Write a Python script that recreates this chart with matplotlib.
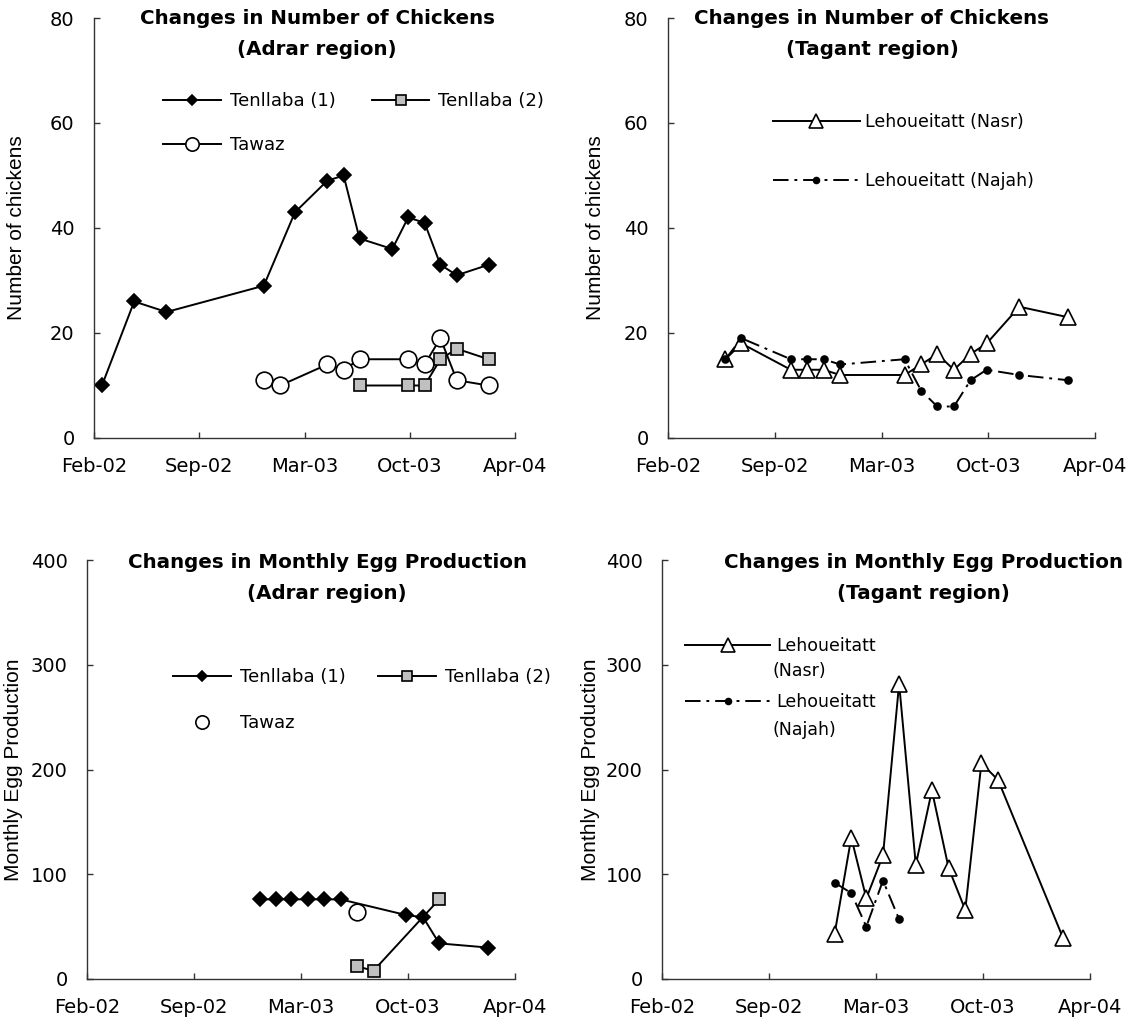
import datetime as dt

import matplotlib.pyplot as plt
import matplotlib.dates as mdates
from matplotlib.ticker import MultipleLocator

# ---- data (monthly observations) ----
chk_t1_months = ["2002-03", "2002-05", "2002-07", "2003-01", "2003-03", "2003-05", "2003-06",
                 "2003-07", "2003-09", "2003-10", "2003-11", "2003-12", "2004-01", "2004-03"]
chk_t1 = [10, 26, 24, 29, 43, 49, 50, 38, 36, 42, 41, 33, 31, 33]

chk_t2_months = ["2003-07", "2003-10", "2003-11", "2003-12", "2004-01", "2004-03"]
chk_t2 = [10, 10, 10, 15, 17, 15]

chk_tawaz_months = ["2003-01", "2003-02", "2003-05", "2003-06", "2003-07", "2003-10",
                    "2003-11", "2003-12", "2004-01", "2004-03"]
chk_tawaz = [11, 10, 14, 13, 15, 15, 14, 19, 11, 10]

chk_tagant_months = ["2002-06", "2002-07", "2002-10", "2002-11", "2002-12", "2003-01", "2003-05",
                     "2003-06", "2003-07", "2003-08", "2003-09", "2003-10", "2003-12", "2004-03"]
chk_nasr = [15, 18, 13, 13, 13, 12, 12, 14, 16, 13, 16, 18, 25, 23]
chk_najah = [15, 19, 15, 15, 15, 14, 15, 9, 6, 6, 11, 13, 12, 11]

egg_t1_months = ["2003-01", "2003-02", "2003-03", "2003-04", "2003-05", "2003-06",
                 "2003-10", "2003-11", "2003-12", "2004-03"]
egg_t1 = [76, 76, 76, 76, 76, 76, 61, 59, 34, 30]

egg_t2_months = ["2003-07", "2003-08", "2003-12"]
egg_t2 = [12, 8, 76]

egg_tawaz_months = ["2003-07"]
egg_tawaz = [64]

egg_nasr_months = ["2003-01", "2003-02", "2003-03", "2003-04", "2003-05", "2003-06",
                   "2003-07", "2003-08", "2003-09", "2003-10", "2003-11", "2004-03"]
egg_nasr = [43, 135, 77, 118, 282, 109, 180, 106, 66, 206, 190, 39]

egg_najah_months = ["2003-01", "2003-02", "2003-03", "2003-04", "2003-05"]
egg_najah = [92, 82, 50, 94, 57]


def to_dates(months):
    return [dt.datetime.strptime(m, "%Y-%m") for m in months]


W, H = 1134, 1025
fig = plt.figure(figsize=(W / 100, H / 100), dpi=100)

x_start = dt.datetime(2002, 2, 14)
x_step = dt.timedelta(days=199)
x_ticks = [x_start + k * x_step for k in range(5)]

TICK_FONT = "DejaVu Sans"
LEG_FONT = "DejaVu Sans"
LABEL_FONT = "Liberation Sans"


def make_axes(box, ymax, ystep, ylabel, ylabel_right):
    left, top, right, bottom = box
    ax = fig.add_axes([left / W, 1 - bottom / H, (right - left) / W, (bottom - top) / H])
    ax.set_xlim(x_ticks[0], x_ticks[-1])
    ax.set_xticks(x_ticks)
    ax.xaxis.set_major_formatter(mdates.DateFormatter("%b-%y"))
    ax.set_ylim(0, ymax)
    ax.yaxis.set_major_locator(MultipleLocator(ystep))
    for s in ["top", "right"]:
        ax.spines[s].set_visible(False)
    for s in ["left", "bottom"]:
        ax.spines[s].set_color("#333333")
        ax.spines[s].set_linewidth(1.0)
    ax.tick_params(direction="in", length=4, width=1, color="#333333",
                   labelsize=14, pad=14)
    for lab in ax.get_xticklabels() + ax.get_yticklabels():
        lab.set_family(TICK_FONT)
    ax.set_ylabel(ylabel, fontsize=15, family=LABEL_FONT)
    ax.yaxis.set_label_coords((ylabel_right - left) / (right - left), 0.5)
    return ax


line_kw = dict(color="black", lw=1.4, mec="black", mew=1.2)

# ---- Adrar chickens ----
ax1 = make_axes((94, 18, 515, 438), 80, 20, "Number of chickens", 26)
h1, = ax1.plot(to_dates(chk_t1_months), chk_t1, marker="D", ms=6.8, mfc="black",
               label="Tenllaba (1)", **line_kw)
h2, = ax1.plot(to_dates(chk_t2_months), chk_t2, marker="s", ms=9, mfc="#c0c0c0",
               label="Tenllaba (2)", **line_kw)
h3, = ax1.plot(to_dates(chk_tawaz_months), chk_tawaz, marker="o", ms=12, mfc="white",
               label="Tawaz", **line_kw)
ax1.legend(handles=[h1, h3, h2], loc="upper left", bbox_to_anchor=(163 / W, 1 - 92 / H),
           bbox_transform=fig.transFigure, ncol=2, frameon=False, borderpad=0,
           borderaxespad=0, handlelength=3.2, handletextpad=0.5, columnspacing=2.0,
           labelspacing=1.45, markerscale=0.8, prop={"family": LEG_FONT, "size": 13})

# ---- Tagant chickens ----
ax2 = make_axes((668, 18, 1095, 438), 80, 20, "Number of chickens", 605)
ax2.plot(to_dates(chk_tagant_months), chk_nasr, marker="^", ms=11.5, mfc="white",
         label="Lehoueitatt (Nasr)", **line_kw)
ax2.plot(to_dates(chk_tagant_months), chk_najah, marker="o", ms=5, mfc="black",
         ls=(0, (8, 3, 1.5, 3)), label="Lehoueitatt (Najah)", **line_kw)
ax2.legend(loc="upper left", bbox_to_anchor=(773 / W, 1 - 113 / H), bbox_transform=fig.transFigure,
           frameon=False, borderpad=0, borderaxespad=0, handlelength=5.0,
           handletextpad=0.3, labelspacing=2.35, markerscale=0.85,
           prop={"family": LEG_FONT, "size": 12.5})

# ---- Adrar eggs ----
ax3 = make_axes((87, 560, 515, 979), 400, 100, "Monthly Egg Production", 23)
g1, = ax3.plot(to_dates(egg_t1_months), egg_t1, marker="D", ms=6.8, mfc="black",
               label="Tenllaba (1)", **line_kw)
g2, = ax3.plot(to_dates(egg_t2_months), egg_t2, marker="s", ms=9, mfc="#c0c0c0",
               label="Tenllaba (2)", **line_kw)
g3, = ax3.plot(to_dates(egg_tawaz_months), egg_tawaz, marker="o", ms=12, mfc="white",
               ls="none", mec="black", mew=1.2, label="Tawaz")
ax3.legend(handles=[g1, g3, g2], loc="upper left", bbox_to_anchor=(173 / W, 1 - 668 / H),
           bbox_transform=fig.transFigure, ncol=2, frameon=False, borderpad=0,
           borderaxespad=0, handlelength=3.2, handletextpad=0.5, columnspacing=1.8,
           labelspacing=1.55, markerscale=0.8, prop={"family": LEG_FONT, "size": 13})

# ---- Tagant eggs ----
ax4 = make_axes((662, 560, 1090, 979), 400, 100, "Monthly Egg Production", 600)
ax4.plot(to_dates(egg_nasr_months), egg_nasr, marker="^", ms=11.5, mfc="white",
         label="Lehoueitatt", **line_kw)
ax4.plot(to_dates(egg_najah_months), egg_najah, marker="o", ms=5, mfc="black",
         ls=(0, (8, 3, 1.5, 3)), label="Lehoueitatt", **line_kw)
ax4.legend(loc="upper left", bbox_to_anchor=(685 / W, 1 - 637 / H), bbox_transform=fig.transFigure,
           frameon=False, borderpad=0, borderaxespad=0, handlelength=4.9,
           handletextpad=0.35, labelspacing=2.2, markerscale=0.85,
           prop={"family": LEG_FONT, "size": 12.5})
fig.text(773 / W, 1 - 671 / H, "(Nasr)", family=LEG_FONT, size=12.5, va="center")
fig.text(773 / W, 1 - 730 / H, "(Najah)", family=LEG_FONT, size=12.5, va="center")

# ---- titles ----
titles = [
    ("Changes in Number of Chickens\n(Adrar region)", 317, 34),
    ("Changes in Number of Chickens\n(Tagant region)", 872, 34),
    ("Changes in Monthly Egg Production\n(Adrar region)", 327, 578),
    ("Changes in Monthly Egg Production\n(Tagant region)", 923, 578),
]
for txt, cx, cy in titles:
    fig.text(cx / W, 1 - cy / H, txt, ha="center", va="center", fontsize=14.3,
             fontweight="bold", family="DejaVu Sans", linespacing=1.75)

fig.savefig("out.png", dpi=100)
